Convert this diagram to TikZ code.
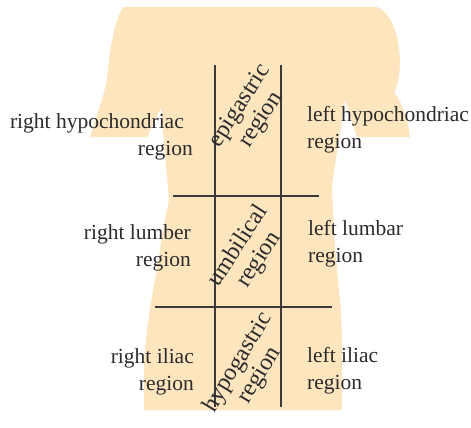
\documentclass[tikz,border=0pt]{standalone}
\usepackage{fontspec}
\setmainfont{Liberation Serif}
\definecolor{skin}{RGB}{253,229,190}
\definecolor{divline}{RGB}{60,56,60}
\definecolor{ink}{RGB}{45,42,45}
\begin{document}
\begin{tikzpicture}[x=1pt,y=-1pt,
  lbl/.style={inner sep=0pt,text=ink,font=\fontsize{21.5}{27.5}\selectfont},
  rightlbl/.style={lbl,align=right,anchor=north east},
  leftlbl/.style={lbl,align=left,anchor=north west},
  diag/.style={inner sep=0pt,text=ink,align=center,font=\fontsize{24}{25}\selectfont},
  divider/.style={draw=divline,line width=2.5pt}]
\useasboundingbox (0,0) rectangle (471,428);

% torso silhouette
\fill[skin] (123,7) -- (377,7)
  .. controls (392,14) and (399,35) .. (400,60)
  .. controls (400,75) and (398,85) .. (394,92)
  .. controls (402,102) and (408,120) .. (410,137)
  -- (357,137) -- (345,100) -- (332,185)
  -- plot[smooth] coordinates {(332,185) (333,213) (335,247) (338,280) (341,313) (342,347)}
  -- (342,410) -- (144,410)
  -- plot[smooth] coordinates {(144,360) (147,330) (152,297) (158,263) (163,230) (169,200)}
  -- (161,108) -- (147,137) -- (90,137)
  .. controls (97,115) and (104,95) .. (107,80)
  .. controls (110,45) and (115,20) .. (123,7) -- cycle;

% grid of the nine regions
\coordinate (vl-top) at (215,65);  \coordinate (vl-bot) at (215,407);
\coordinate (vr-top) at (281,65);  \coordinate (vr-bot) at (281,407);
\coordinate (hu-l) at (173,196);   \coordinate (hu-r) at (319,196);
\coordinate (hl-l) at (155,307);   \coordinate (hl-r) at (332,307);
\draw[divider] (vl-top) -- (vl-bot);
\draw[divider] (vr-top) -- (vr-bot);
\draw[divider] (hu-l) -- (hu-r);
\draw[divider] (hl-l) -- (hl-r);

% side labels
\node[rightlbl] (rhyp) at (193,113) {right hypochondriac\hspace*{9pt}\\region};
\node[leftlbl]  (lhyp) at (307,106) {left hypochondriac\\region};
\node[rightlbl] (rlum) at (191,224) {right lumber\\region};
\node[leftlbl]  (llum) at (308,220) {left lumbar\\region};
\node[rightlbl] (rili) at (194,348) {right iliac\\region};
\node[leftlbl]  (lili) at (307,347) {left iliac\\region};

% central labels
\node[diag,rotate=57] (epi) at (251,113) {epigastric\\region};
\node[diag,rotate=57] (umb) at (249,253) {umbilical\\region};
\node[diag,rotate=59] (hyp) at (249,369) {hypogastric\\region};
\end{tikzpicture}
\end{document}
